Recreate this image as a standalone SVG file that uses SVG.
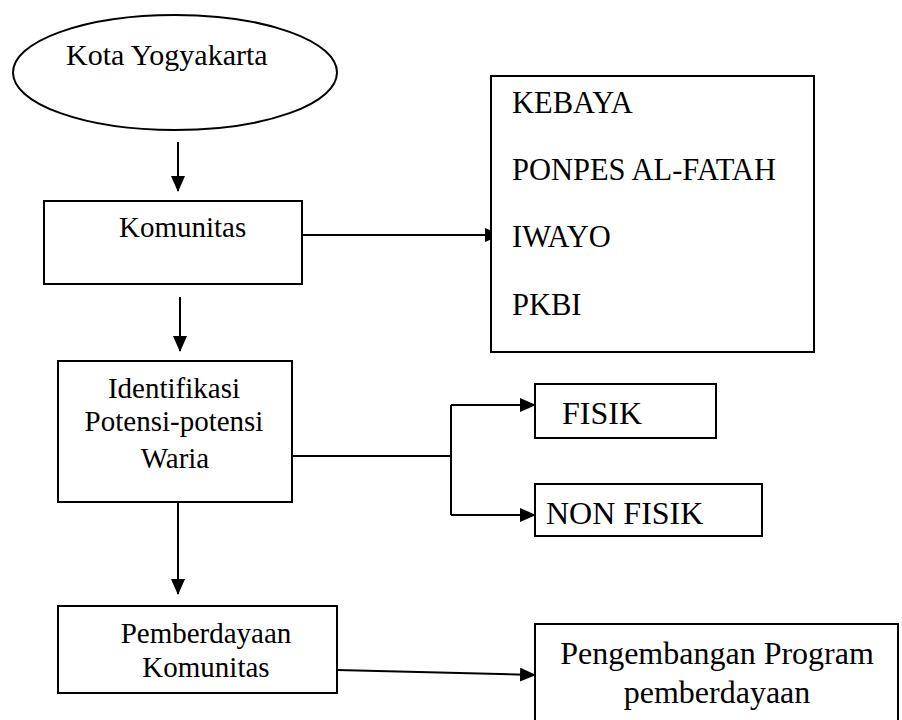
<svg xmlns="http://www.w3.org/2000/svg" width="902" height="720" viewBox="0 0 902 720">
<defs>
<marker id="ah" markerWidth="16" markerHeight="14" refX="15" refY="7" orient="auto" markerUnits="userSpaceOnUse">
<path d="M0,0 L16,7 L0,14 Z" fill="#000"/>
</marker>
<style>
.s{fill:#fff;stroke:#000;stroke-width:2}
.c{fill:none;stroke:#000;stroke-width:2}
text{font-family:'Liberation Serif','Times New Roman','DejaVu Serif',serif;font-size:29px;fill:#000}
.m{text-anchor:middle}
.l{font-size:30.5px}
.b{font-size:32px}
</style>
</defs>
<rect width="902" height="720" fill="#fff"/>
<g id="connectors">
<line class="c" x1="178" y1="142" x2="178" y2="191" marker-end="url(#ah)"/>
<line class="c" x1="302" y1="235" x2="500" y2="235" marker-end="url(#ah)"/>
<line class="c" x1="180" y1="297" x2="180" y2="351" marker-end="url(#ah)"/>
<polyline class="c" points="292,456 451,456"/>
<polyline class="c" points="451,405 451,515"/>
<line class="c" x1="451" y1="405" x2="535" y2="405" marker-end="url(#ah)"/>
<line class="c" x1="451" y1="515" x2="535" y2="515" marker-end="url(#ah)"/>
<line class="c" x1="178" y1="502" x2="178" y2="594" marker-end="url(#ah)"/>
<line class="c" x1="337" y1="670" x2="535" y2="675" marker-end="url(#ah)"/>
</g>
<g id="kota">
<ellipse class="s" cx="175" cy="72.5" rx="162" ry="57.5"/>
<text x="66" y="65" style="font-size:30px">Kota Yogyakarta</text>
</g>
<g id="komunitas">
<rect class="s" x="44" y="201" width="258" height="83"/>
<text x="119" y="237">Komunitas</text>
</g>
<g id="list">
<rect class="s" x="491" y="76" width="323" height="276"/>
<text class="l" x="512" y="113">KEBAYA</text>
<text class="l" x="512" y="180">PONPES AL-FATAH</text>
<text class="l" x="512" y="247">IWAYO</text>
<text class="l" x="512" y="315">PKBI</text>
</g>
<g id="identifikasi">
<rect class="s" x="58" y="361" width="234" height="141"/>
<text class="m" x="174" y="398">Identifikasi</text>
<text class="m" x="174" y="431">Potensi-potensi</text>
<text class="m" x="175" y="468">Waria</text>
</g>
<g id="fisik">
<rect class="s" x="535" y="384" width="181" height="54"/>
<text class="b" x="562" y="424">FISIK</text>
</g>
<g id="nonfisik">
<rect class="s" x="535" y="484" width="227" height="52"/>
<text class="b" x="546" y="524">NON FISIK</text>
</g>
<g id="pemberdayaan">
<rect class="s" x="58" y="606" width="279" height="87"/>
<text class="m" x="206" y="643">Pemberdayaan</text>
<text class="m" x="206" y="677">Komunitas</text>
</g>
<g id="pengembangan">
<rect class="s" x="535" y="624" width="363" height="110"/>
<text class="m b" x="717" y="664">Pengembangan Program</text>
<text class="m b" x="717" y="703">pemberdayaan</text>
</g>
</svg>
